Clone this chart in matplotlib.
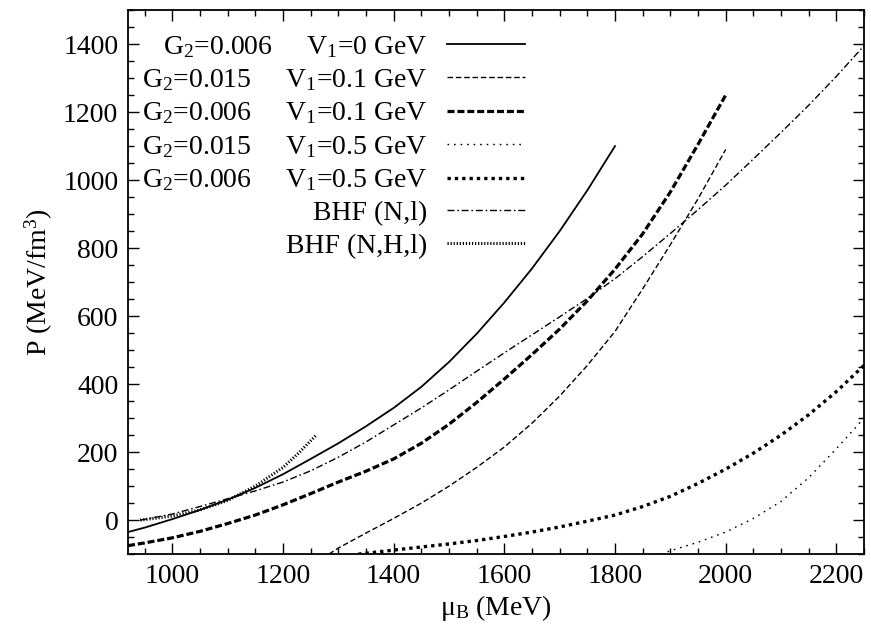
import numpy as np
import matplotlib
matplotlib.use("Agg")
import matplotlib.pyplot as plt
from matplotlib.ticker import MultipleLocator

plt.rcParams['font.family'] = ['Liberation Serif', 'DejaVu Serif']
plt.rcParams['mathtext.fontset'] = 'custom'
plt.rcParams['mathtext.rm'] = 'Liberation Serif'
plt.rcParams['mathtext.it'] = 'Liberation Serif:italic'

# G2=0.006, V1=0
mu_a = [920, 950, 1000, 1050, 1100, 1150, 1200, 1250, 1300, 1350, 1400, 1450,
        1500, 1550, 1600, 1650, 1700, 1750, 1800]
p_a = [-35, -22, 3, 30, 60, 95, 135, 180, 226, 276, 330, 392,
       465, 548, 640, 740, 850, 970, 1100]

# G2=0.015, V1=0.1
mu_b = [1283, 1300, 1350, 1400, 1450, 1500, 1550, 1600, 1650, 1700, 1750,
        1800, 1850, 1900, 1950, 2000]
p_b = [-100, -82, -38, 5, 50, 100, 155, 215, 285, 365, 455,
       555, 680, 810, 945, 1090]

# G2=0.006, V1=0.1
mu_c = [920, 950, 1000, 1050, 1100, 1150, 1200, 1250, 1300, 1350, 1400, 1450,
        1500, 1550, 1600, 1650, 1700, 1750, 1800, 1850, 1900, 1950, 2000]
p_c = [-75, -67, -52, -33, -10, 15, 45, 78, 112, 144, 180, 226,
       282, 346, 415, 487, 562, 645, 738, 842, 965, 1105, 1250]

# G2=0.015, V1=0.5
mu_d = [1884, 1900, 1950, 2000, 2050, 2100, 2150, 2200, 2250]
p_d = [-100, -90, -65, -35, 5, 55, 125, 210, 300]

# G2=0.006, V1=0.5
mu_e = [1336, 1400, 1450, 1500, 1550, 1600, 1650, 1700, 1750, 1800, 1850,
        1900, 1950, 2000, 2050, 2100, 2150, 2200, 2250]
p_e = [-100, -88, -79, -70, -60, -48, -35, -20, -3, 15, 40,
       70, 108, 150, 197, 250, 310, 378, 455]

# BHF (N,l)
mu_f = [942, 1000, 1050, 1100, 1150, 1200, 1250, 1300, 1350, 1400, 1450, 1500,
        1550, 1600, 1650, 1700, 1750, 1800, 1850, 1900, 1950, 2000, 2050,
        2100, 2150, 2200, 2250]
p_f = [0, 18, 40, 63, 86, 112, 145, 185, 230, 280, 330, 383,
       438, 492, 545, 598, 652, 710, 775, 843, 913, 985, 1062,
       1140, 1220, 1305, 1395]

# BHF (N,H,l)
mu_g = [942, 1000, 1050, 1100, 1150, 1200, 1230, 1260]
p_g = [0, 12, 30, 58, 100, 155, 200, 250]

labels = [r'G$\mathregular{_2}$=0.006     V$\mathregular{_1}$=0 GeV',
          r'G$\mathregular{_2}$=0.015     V$\mathregular{_1}$=0.1 GeV',
          r'G$\mathregular{_2}$=0.006     V$\mathregular{_1}$=0.1 GeV',
          r'G$\mathregular{_2}$=0.015     V$\mathregular{_1}$=0.5 GeV',
          r'G$\mathregular{_2}$=0.006     V$\mathregular{_1}$=0.5 GeV',
          'BHF (N,l)',
          'BHF (N,H,l)']

fig = plt.figure(figsize=(8.71, 6.29), dpi=100)
ax = fig.add_axes([0.147, 0.119, 0.845, 0.865])

k = 'black'
ax.plot(mu_a, p_a, color=k, lw=1.3, ls='-', label=labels[0])
ax.plot(mu_b, p_b, color=k, lw=1.0, ls=(0, (4, 2)), label=labels[1])
ax.plot(mu_c, p_c, color=k, lw=2.3, ls=(0, (2.2, 0.9)), label=labels[2])
ax.plot(mu_d, p_d, color=k, lw=1.0, ls=(0, (1.2, 3.5)), label=labels[3])
ax.plot(mu_e, p_e, color=k, lw=2.4, ls=(0, (1.0, 1.2)), label=labels[4])
ax.plot(mu_f, p_f, color=k, lw=1.0, ls=(0, (5, 2, 1.2, 2)), label=labels[5])
ax.plot(mu_g, p_g, color=k, lw=2.2, ls=(0, (0.4, 0.6)), label=labels[6])

ax.set_xlim(920, 2250)
ax.set_ylim(-100, 1500)
ax.xaxis.set_major_locator(MultipleLocator(200))
ax.xaxis.set_minor_locator(MultipleLocator(50))
ax.yaxis.set_major_locator(MultipleLocator(200))
ax.yaxis.set_minor_locator(MultipleLocator(50))
ax.tick_params(which='both', direction='in', top=True, right=True,
               labelsize=20, width=1.0, pad=7)
ax.tick_params(which='major', length=8)
ax.tick_params(which='minor', length=4)
for s in ax.spines.values():
    s.set_linewidth(1.3)

ax.set_xlabel(r'$\mathregular{\mu_B}$ (MeV)', fontsize=20, labelpad=3)
ax.set_ylabel(r'P (MeV/fm$\mathregular{^3}$)', fontsize=20, labelpad=6)

ax.legend(loc='upper left', frameon=False, markerfirst=False, fontsize=20,
          handlelength=2.8, handletextpad=0.72, labelspacing=0.27,
          borderpad=0.2, borderaxespad=0.3, bbox_to_anchor=(0.0, 0.982))

fig.savefig('out.png', dpi=100)
